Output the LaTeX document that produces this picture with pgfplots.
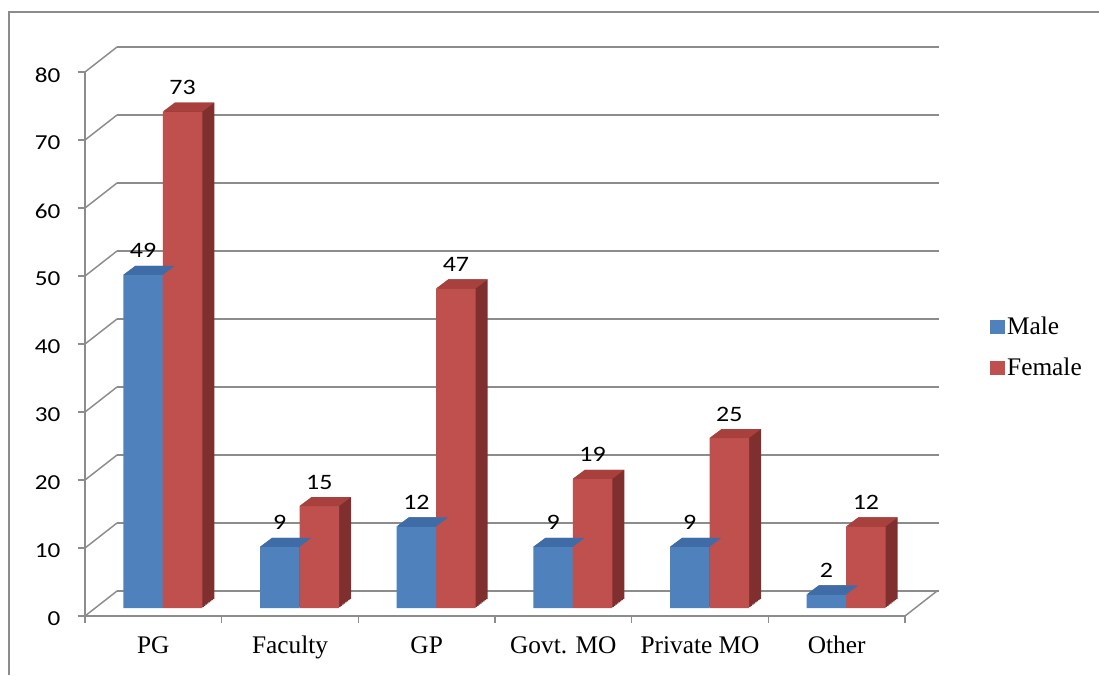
\documentclass[border=0pt]{standalone}
\usepackage{pgfplots}
\usepackage{pgfplotstable}
\pgfplotsset{compat=1.18}
\usepackage{fontspec}
\setmainfont{Liberation Serif}
\newfontfamily\calib[FakeStretch=1.18]{Carlito}

\definecolor{mblue}{HTML}{4F81BD}
\definecolor{mred}{HTML}{C0504D}
\definecolor{mblueTop}{HTML}{3F6CA6}
\definecolor{mblueSide}{HTML}{2E5080}
\definecolor{mredTop}{HTML}{A8413E}
\definecolor{mredSide}{HTML}{7F2F2D}
\definecolor{gridgray}{RGB}{140,140,140}

\pgfdeclareplotmark{topface}{%
 \pgfpathmoveto{\pgfpoint{-14.8125pt}{0pt}}%
 \pgfpathlineto{\pgfpoint{14.8125pt}{0pt}}%
 \pgfpathlineto{\pgfpoint{23.8125pt}{6.75pt}}%
 \pgfpathlineto{\pgfpoint{-5.8125pt}{6.75pt}}%
 \pgfpathclose\pgfusepathqfill}
\pgfdeclareplotmark{diag}{%
 \pgfpathmoveto{\pgfpointorigin}\pgfpathlineto{\pgfpoint{24pt}{18.75pt}}\pgfusepathqstroke}

\pgfplotstableread{
x male female
0 49 73
1 9 15
2 12 47
3 9 19
4 9 25
5 2 12
}\data

\begin{document}
\begin{tikzpicture}
\path[use as bounding box] (0,0) rectangle (824.25pt,506.25pt);
\draw[gridgray, line width=0.9pt] (6.75pt,0) -- (6.75pt,497.25pt) -- (824.25pt,497.25pt);

% back wall
\begin{axis}[at={(87.75pt,63pt)}, anchor=south west, scale only axis,
  width=616.5pt, height=408pt, xmin=0, xmax=1, ymin=0, ymax=80,
  ytick={0,10,...,80}, xtick=\empty, yticklabels={}, ymajorgrids,
  major grid style={draw=gridgray, line width=1.1pt},
  axis line style={draw=none}, major tick length=0pt]
\addplot[draw=none] coordinates {(0,0)};
\end{axis}

% front
\begin{axis}[at={(63.75pt,44.25pt)}, anchor=south west, scale only axis,
  width=615pt, height=408pt, xmin=-0.5, xmax=5.5, ymin=0, ymax=80, clip=false,
  axis x line*=bottom, axis y line*=left,
  axis line style={draw=gridgray, line width=1.1pt, -},
  xtick={0,...,5}, xticklabels={PG,Faculty,GP,Govt. MO,Private MO,Other},
  minor xtick={-0.5,0.5,...,5.5},
  ytick={0,10,...,80},
  tick align=outside, major tick length=5.25pt, minor tick length=5.25pt,
  tick style={draw=gridgray, line width=1.1pt},
  major x tick style={draw=none},
  /pgf/number format/assume math mode=true,
  xticklabel style={font=\fontsize{19}{21}\selectfont, anchor=base, inner sep=0pt, yshift=-22.5pt},
  yticklabel style={font=\calib\fontsize{16}{19}\selectfont, anchor=east, inner sep=0pt, xshift=-13pt, yshift=-2.25pt},
  every node near coord/.append style={font=\calib\fontsize{16.5}{19}\selectfont, anchor=base, inner sep=0pt, yshift=12.75pt, text=black},
  legend style={at={(1.1037,0.4945)}, anchor=west, draw=none, fill=none, inner sep=0pt,
     font=\fontsize{19}{21}\selectfont, row sep=12pt},
  legend cell align=left,
  ]

\addlegendimage{legend image code/.code={\fill[mblue] (0pt,-5pt) rectangle (10.25pt,5pt);}}
\addlegendentry{Male}
\addlegendimage{legend image code/.code={\fill[mred] (0pt,-5pt) rectangle (10.25pt,5pt);}}
\addlegendentry{Female}

\addplot[only marks, mark=diag, mark options={draw=gridgray, line width=1.1pt}, forget plot]
  coordinates {(-0.5,0)(-0.5,10)(-0.5,20)(-0.5,30)(-0.5,40)(-0.5,50)(-0.5,60)(-0.5,70)(-0.5,80)(5.5,0)};

% male
\pgfplotsinvokeforeach{1,...,8}{
\addplot[ybar, bar width=29.625pt, bar shift=-14.8125pt, fill=mblueSide, draw=none, forget plot,
  xshift={7.125pt+#1*1.125pt}, yshift={6pt+#1*0.84375pt}] table[x=x,y=male]{\data};
}
\addplot[only marks, mark=topface, mark options={fill=mblueTop, draw=none}, forget plot,
  xshift={7.125pt-14.8125pt}, yshift=6pt] table[x=x,y=male]{\data};
\addplot[ybar, bar width=29.625pt, bar shift=-14.8125pt, fill=mblue, draw=none, forget plot,
  xshift=7.125pt, yshift=6pt, nodes near coords,
  every node near coord/.append style={xshift=-14.8125pt}] table[x=x,y=male]{\data};

% female
\pgfplotsinvokeforeach{1,...,8}{
\addplot[ybar, bar width=29.625pt, bar shift=14.8125pt, fill=mredSide, draw=none, forget plot,
  xshift={7.125pt+#1*1.125pt}, yshift={6pt+#1*0.84375pt}] table[x=x,y=female]{\data};
}
\addplot[only marks, mark=topface, mark options={fill=mredTop, draw=none}, forget plot,
  xshift={7.125pt+14.8125pt}, yshift=6pt] table[x=x,y=female]{\data};
\addplot[ybar, bar width=29.625pt, bar shift=14.8125pt, fill=mred, draw=none, forget plot,
  xshift=7.125pt, yshift=6pt, nodes near coords,
  every node near coord/.append style={xshift=14.8125pt}] table[x=x,y=female]{\data};

\end{axis}
\end{tikzpicture}
\end{document}
